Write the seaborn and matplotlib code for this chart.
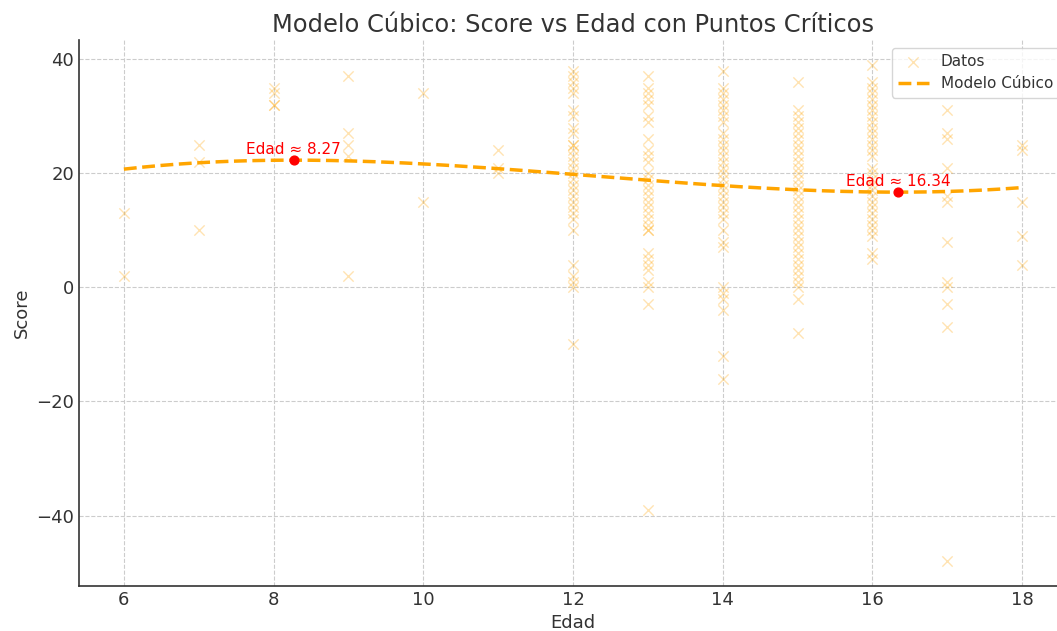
import numpy as np
import pandas as pd
import matplotlib
matplotlib.use("agg")
import matplotlib.pyplot as plt
import seaborn as sns

# ---------------------------------------------------------------
# datos (edad, score)
edad_6 = [13, 2]
edad_7 = [25, 22, 10]
edad_8 = [35, 34, 32, 32]
edad_9 = [37, 27, 25, 23, 2]
edad_10 = [34, 15]
edad_11 = [24, 21, 20]
edad_12 = [38, 37, 36, 35, 34, 31, 30, 28, 27, 25, 25, 24, 23, 22, 21, 20, 19,
           18, 17, 16, 15, 14, 13, 12, 10, 4, 2, 1, 0, -10]
edad_13 = [37, 35, 34, 33, 32, 30, 29, 26, 24, 23, 22, 20, 19, 18, 17, 16, 15,
           14, 13, 12, 11, 10, 10, 6, 5, 4, 3, 1, 0, -3, -39]
edad_14 = [38, 35, 34, 33, 32, 31, 30, 29, 27, 26, 25, 24, 23, 22, 21, 20, 19,
           18, 17, 16, 15, 14, 13, 12, 10, 8, 7, 0, -1, -2, -4, -12, -16]
edad_15 = [36, 31, 30, 29, 28, 27, 26, 25, 24, 23, 22, 21, 20, 19, 18, 17, 16,
           15, 14, 13, 12, 11, 10, 9, 8, 7, 6, 5, 4, 3, 2, 1, 0, -2, -8]
edad_16 = [39, 36, 35, 34, 33, 32, 31, 30, 29, 28, 27, 26, 25, 24, 23, 21, 20,
           19, 18, 17, 16, 15, 14, 13, 12, 11, 10, 9, 6, 5]
edad_17 = [31, 27, 26, 21, 16, 15, 8, 1, 0, -3, -7, -48]
edad_18 = [25, 24, 15, 9, 4]

columnas = {6: edad_6, 7: edad_7, 8: edad_8, 9: edad_9, 10: edad_10,
            11: edad_11, 12: edad_12, 13: edad_13, 14: edad_14, 15: edad_15,
            16: edad_16, 17: edad_17, 18: edad_18}

# coeficientes del modelo cubico (a, b, c, d) y puntos criticos
coef_cubico = [0.02131, -0.7867, 8.639, -7.40]
puntos_criticos = [8.27, 16.34]

#################################################################
edad = []
score = []
for e, vals in columnas.items():
    edad += [e] * len(vals)
    score += vals
df = pd.DataFrame({"Edad": edad, "Score": score})

x_mod = np.linspace(6, 18, 200)
df_mod = pd.DataFrame({"Edad": x_mod, "Score": np.polyval(coef_cubico, x_mod)})

sns.set_style("white")
plt.rcParams["font.family"] = ["DejaVu Sans"]
texto = "#333333"

fig = plt.figure(figsize=(10.57, 6.31), dpi=100)
ax = fig.add_axes([0.0747, 0.0713, 0.9348, 0.8653])

sns.scatterplot(data=df, x="Edad", y="Score", marker="x", color="orange",
                alpha=0.3, s=55, linewidth=1, label="Datos", ax=ax)
sns.lineplot(data=df_mod, x="Edad", y="Score", color="orange", linestyle="--",
             linewidth=2.5, label="Modelo Cúbico", ax=ax)

for xc in puntos_criticos:
    yc = np.polyval(coef_cubico, xc)
    ax.scatter([xc], [yc], color="red", s=40, zorder=5)
    ax.text(xc, yc + 0.6, "Edad ≈ %.2f" % xc, color="red", fontsize=11,
            ha="center", va="bottom")

ax.set_xlim(5.4, 18.6)
ax.set_ylim(-52.35, 43.35)
ax.set_xticks([6, 8, 10, 12, 14, 16, 18])
ax.set_yticks([-40, -20, 0, 20, 40])
ax.grid(True, linestyle="--", color="#cccccc", linewidth=0.8)
ax.set_axisbelow(True)

ax.set_title("Modelo Cúbico: Score vs Edad con Puntos Críticos",
             fontsize=17.4, color=texto)
ax.set_xlabel("Edad", fontsize=13, color=texto)
ax.set_ylabel("Score", fontsize=13, color=texto)
ax.tick_params(direction="in", labelsize=13, colors=texto, length=4)
for lado in ["top", "right"]:
    ax.spines[lado].set_visible(False)
for lado in ["left", "bottom"]:
    ax.spines[lado].set_color(texto)
    ax.spines[lado].set_linewidth(1.2)

leg = ax.legend(loc="upper right", fontsize=11, frameon=True)
for t in leg.get_texts():
    t.set_color(texto)

plt.savefig("out.png", dpi=100)
